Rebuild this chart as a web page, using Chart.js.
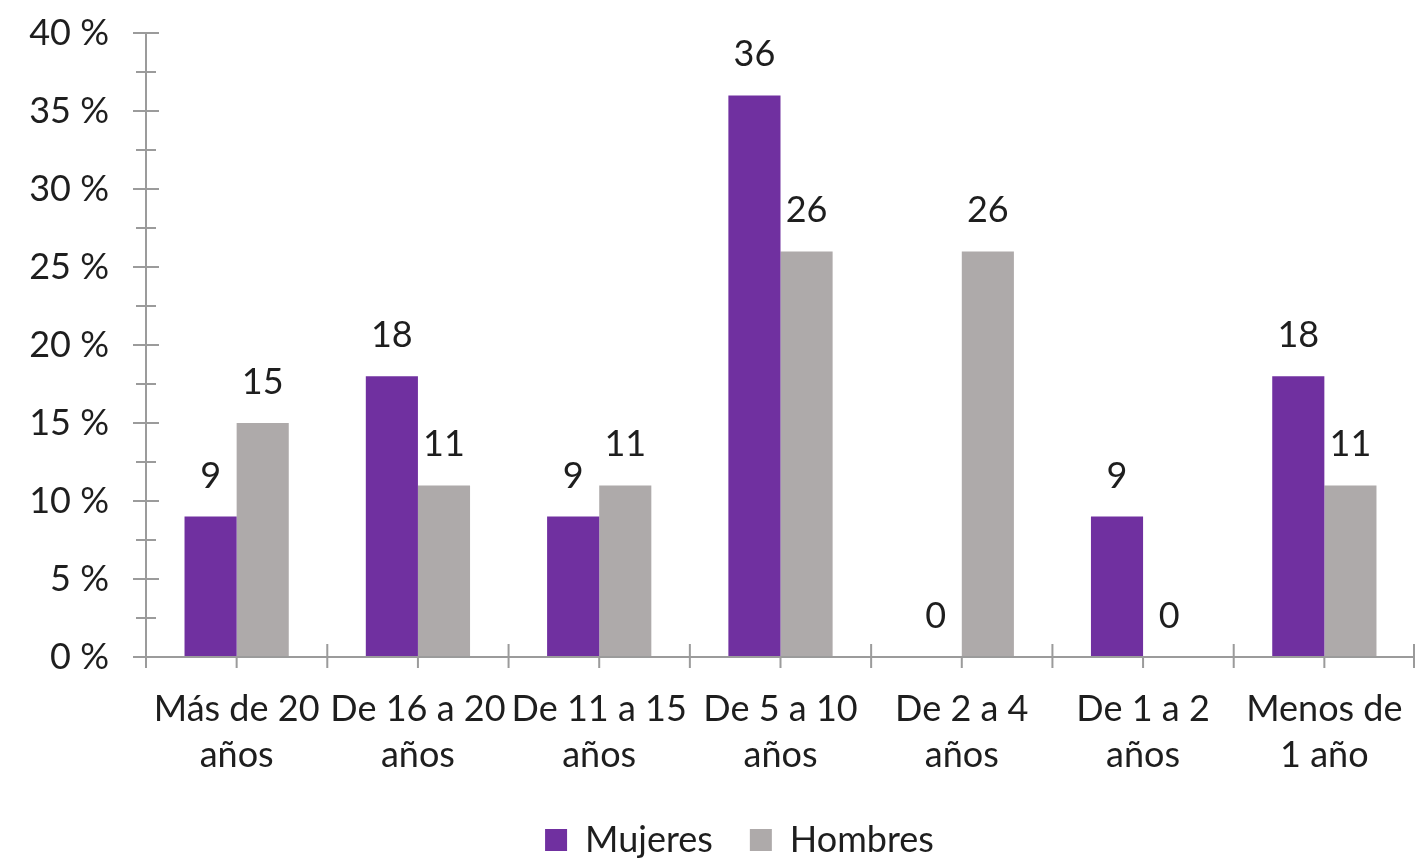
<!DOCTYPE html>
<html>
<head>
<meta charset="utf-8">
<script src="https://cdn.jsdelivr.net/npm/chart.js@4.4.0/dist/chart.umd.min.js"></script>
<style>
  html, body { margin: 0; padding: 0; background: #fff; overflow: hidden; }
  #wrap { width: 1415px; height: 858px; }
  canvas { display: block; }
</style>
</head>
<body>
<div id="wrap"><canvas id="grafico"></canvas></div>
<script>
const categorias = [
    ['Más de 20', 'años'],
    ['De 16 a 20', 'años'],
    ['De 11 a 15', 'años'],
    ['De 5 a 10', 'años'],
    ['De 2 a 4', 'años'],
    ['De 1 a 2', 'años'],
    ['Menos de', '1 año']
];
const mujeres = [9, 18, 9, 36, 0, 9, 18];
const hombres = [15, 11, 11, 26, 26, 0, 11];
const ticksY = [0, 5, 10, 15, 20, 25, 30, 35, 40];

const fuente = 'Lato';
const tamano = 36;
const colorTexto = '#1e1e1e';
const colorEje = '#9b9b9b';

// ejes dibujados a mano (ticks que cruzan el eje, menores, etc.)
const ejes = {
    id: 'ejes',
    afterDatasetsDraw(chart) {
        const ctx = chart.ctx;
        const x = chart.scales.x;
        const y = chart.scales.y;
        const y0 = y.getPixelForValue(0);
        ctx.save();
        ctx.strokeStyle = colorEje;
        ctx.lineWidth = 2;
        ctx.beginPath();
        // eje y
        ctx.moveTo(x.left, y.top);
        ctx.lineTo(x.left, y0 + 11);
        ticksY.forEach(v => {
            const py = y.getPixelForValue(v);
            ctx.moveTo(x.left - 13, py);
            ctx.lineTo(x.left + 13, py);
            if (v < 40) {
                const pm = y.getPixelForValue(v + 2.5);
                ctx.moveTo(x.left - 10, pm);
                ctx.lineTo(x.left + 10, pm);
            }
        });
        // eje x
        ctx.moveTo(x.left - 13, y0);
        ctx.lineTo(x.right, y0);
        const ancho = (x.right - x.left) / categorias.length;
        for (let i = 1; i <= categorias.length; i++) {
            const px = Math.min(x.left + i * ancho, x.right - 1);
            ctx.moveTo(px, y0 - 13);
            ctx.lineTo(px, y0 + 11);
        }
        categorias.forEach((c, i) => {
            const px = x.getPixelForValue(i);
            ctx.moveTo(px, y0);
            ctx.lineTo(px, y0 + 11);
        });
        ctx.stroke();
        ctx.restore();
    }
};

// etiquetas de valores encima de cada barra
const etiquetas = {
    id: 'etiquetas',
    afterDatasetsDraw(chart) {
        const ctx = chart.ctx;
        ctx.save();
        ctx.font = tamano + 'px ' + fuente;
        ctx.fillStyle = colorTexto;
        ctx.textAlign = 'center';
        ctx.textBaseline = 'alphabetic';
        chart.data.datasets.forEach((ds, i) => {
            chart.getDatasetMeta(i).data.forEach((barra, j) => {
                ctx.fillText(String(ds.data[j]), barra.x, barra.y - 29);
            });
        });
        ctx.restore();
    }
};

// mover la leyenda un poco (a la derecha y abajo)
const moverLeyenda = {
    id: 'moverLeyenda',
    afterLayout(chart) {
        const l = chart.legend;
        if (!l) return;
        l.left += 32;
        l.right += 32;
        l.top += 10;
        l.bottom += 10;
    }
};

let chart1;
function grafico1() {
    const ctx = document.getElementById('grafico');

    chart1 = new Chart(ctx, {
        type: 'bar',
        data: {
            labels: categorias,
            datasets: [
                {
                    label: 'Mujeres',
                    data: mujeres,
                    backgroundColor: '#7030a0',
                    borderWidth: 0
                },
                {
                    label: 'Hombres',
                    data: hombres,
                    backgroundColor: '#aeaaaa',
                    borderWidth: 0
                }
            ]
        },
        options: {
            responsive: true,
            maintainAspectRatio: false,
            animation: false,
            datasets: {
                bar: {
                    categoryPercentage: 0.575,
                    barPercentage: 1.0
                }
            },
            layout: {
                padding: { top: 33, right: 0, left: 0, bottom: 0 }
            },
            plugins: {
                tooltip: { enabled: false },
                legend: {
                    position: 'bottom',
                    labels: {
                        boxWidth: 22,
                        boxHeight: 22,
                        padding: 37,
                        color: colorTexto,
                        font: { family: fuente, size: tamano }
                    }
                }
            },
            scales: {
                x: {
                    grid: { display: false, drawTicks: false },
                    border: { display: false },
                    ticks: {
                        color: colorTexto,
                        autoSkip: false,
                        maxRotation: 0,
                        minRotation: 0,
                        padding: 29,
                        font: { family: fuente, size: tamano, lineHeight: 46 / tamano }
                    },
                    afterFit(scale) {
                        const leyenda = scale.chart.legend ? scale.chart.legend.height : 0;
                        scale.height = 858 - 657 - leyenda;
                        scale.paddingLeft = 0;
                        scale.paddingRight = 0;
                    }
                },
                y: {
                    min: 0,
                    max: 40,
                    grid: { display: false, drawTicks: false },
                    border: { display: false },
                    ticks: {
                        stepSize: 5,
                        padding: 37,
                        color: colorTexto,
                        font: { family: fuente, size: tamano },
                        callback: function (v) { return v + ' %'; }
                    },
                    afterFit(scale) {
                        scale.width = 146;
                        scale.paddingTop = 0;
                        scale.paddingBottom = 0;
                    }
                }
            }
        },
        plugins: [ejes, etiquetas, moverLeyenda]
    });
}

grafico1();
</script>
</body>
</html>
